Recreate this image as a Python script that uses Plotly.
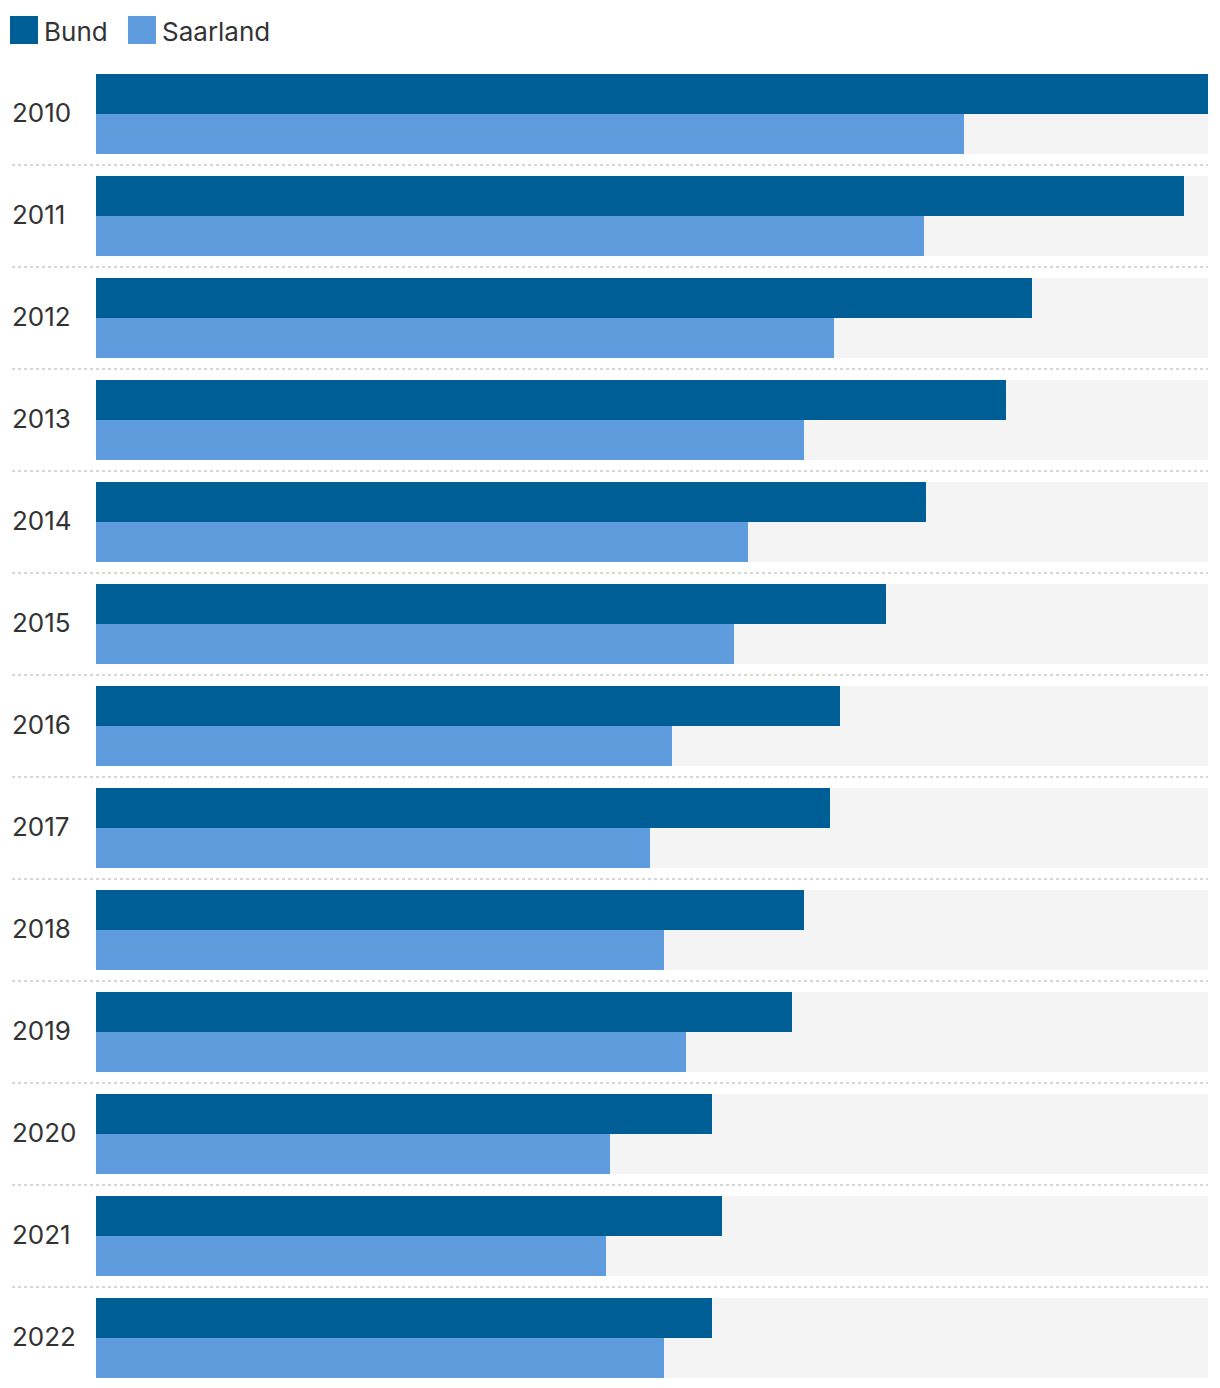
import plotly.graph_objects as go

years = ["2010", "2011", "2012", "2013", "2014", "2015", "2016",
         "2017", "2018", "2019", "2020", "2021", "2022"]
bund = [111.2, 108.8, 93.6, 91.0, 83.0, 79.0, 74.4, 73.4, 70.8, 69.6, 61.6, 62.6, 61.6]
saarland = [86.8, 82.8, 73.8, 70.8, 65.2, 63.8, 57.6, 55.4, 56.8, 59.0, 51.4, 51.0, 56.8]
series_names = ["Bund", "Saarland"]
series_colors = ["#005e97", "#5e9cdd"]
bg_color = "#f4f4f4"
text_color = "#333333"

vmax = max(bund)
idx = list(range(len(years)))
group_w = 80 / 102
half_w = group_w / 2

fig = go.Figure()
fig.add_trace(go.Bar(
    y=idx, x=[vmax] * len(years), orientation="h",
    width=group_w, offset=-half_w, marker=dict(color=bg_color, line=dict(width=0)),
    hoverinfo="skip", showlegend=False))
fig.add_trace(go.Bar(
    y=idx, x=bund, orientation="h", name=series_names[0],
    width=half_w, offset=-half_w, marker=dict(color=series_colors[0], line=dict(width=0)),
    showlegend=False))
fig.add_trace(go.Bar(
    y=idx, x=saarland, orientation="h", name=series_names[1],
    width=half_w, offset=0, marker=dict(color=series_colors[1], line=dict(width=0)),
    showlegend=False))

# page is offset by an 8px body margin
OFF = 8
W, H = 1220, 1388
ml, mr, mt, mb = 96 - OFF, 20, 63 - OFF, OFF
pw = W - ml - mr
ph = H - mt - mb

def px_x(p):
    return (p - OFF - ml) / pw

def px_y(p):
    return 1 - (p - OFF - mt) / ph

shapes = []
for i in range(len(years) - 1):
    shapes.append(dict(type="line", xref="paper", yref="y",
                       x0=px_x(12), x1=1, y0=i + 0.5, y1=i + 0.5,
                       line=dict(color="#d6d6d6", width=2, dash="dot"),
                       layer="below"))

FS = 26
annotations = []
for i, yv in enumerate(years):
    annotations.append(dict(xref="paper", yref="y", x=px_x(12), y=i,
                            text=yv, showarrow=False, xanchor="left",
                            yanchor="middle", xshift=-2, yshift=2,
                            font=dict(family="Inter", size=FS, color=text_color)))

# legend
leg_x = [10, 128]
for k, nm in enumerate(series_names):
    shapes.append(dict(type="rect", xref="paper", yref="paper",
                       x0=px_x(leg_x[k]), x1=px_x(leg_x[k] + 28),
                       y0=px_y(44), y1=px_y(16),
                       fillcolor=series_colors[k], line=dict(width=0)))
    annotations.append(dict(xref="paper", yref="paper",
                            x=px_x(leg_x[k] + 33), y=px_y(31),
                            text=nm, showarrow=False, xanchor="left",
                            yanchor="middle", xshift=-1,
                            font=dict(family="Inter", size=FS, color=text_color)))

fig.update_layout(
    width=W, height=H,
    margin=dict(l=ml, r=mr, t=mt, b=mb, pad=0),
    barmode="overlay",
    plot_bgcolor="white", paper_bgcolor="white",
    xaxis=dict(range=[0, vmax], showgrid=False, zeroline=False,
               showticklabels=False, ticks="", fixedrange=True),
    yaxis=dict(range=[len(years) - 0.51, -0.5], showgrid=False, zeroline=False,
               showticklabels=False, ticks="", fixedrange=True),
    shapes=shapes, annotations=annotations,
    font=dict(family="Inter", color=text_color),
    showlegend=False,
)

fig.write_html("out.html")
